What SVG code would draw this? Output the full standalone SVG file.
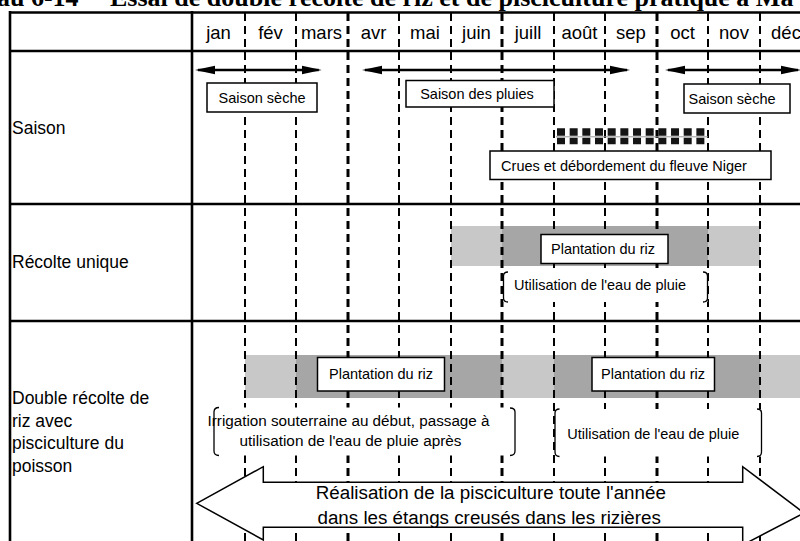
<svg xmlns="http://www.w3.org/2000/svg" width="800" height="541" viewBox="0 0 800 541">
<defs>
<style>
.t{font-family:"Liberation Sans",Arial,sans-serif;fill:#000}
.ttl{font-family:"Liberation Serif","Times New Roman",serif;font-weight:bold;font-size:26px;fill:#000}
.m{font-size:18.5px;text-anchor:middle}
.lbl{font-size:17.5px}
.bx{font-size:14.5px;text-anchor:middle}
.sm{font-size:14px;text-anchor:middle}
.big{font-size:18.8px;text-anchor:middle}
.box{fill:#fff;stroke:#000;stroke-width:1.5}
.bg{fill:#fff;stroke:none}
.rule{stroke:#000;stroke-width:2.6;fill:none}
.dash{stroke:#000;stroke-width:2;stroke-dasharray:8 5;fill:none}
.q{stroke-width:3}
.lg{fill:#c8c8c8}
.dg{fill:#a6a6a6}
.br{fill:none;stroke:#000;stroke-width:1.3}
.sa{stroke:#000;stroke-width:2.3;marker-start:url(#ah);marker-end:url(#ah)}
.crue{stroke:#151515;stroke-dasharray:8 4.67;fill:none}
</style>
<marker id="ah" markerUnits="userSpaceOnUse" viewBox="0 0 20 10" markerWidth="20" markerHeight="10" refX="17" refY="5" orient="auto-start-reverse">
<path d="M0,0.8 L20,5 L0,9.2 z" fill="#000"/>
</marker>
</defs>
<rect width="800" height="541" fill="#fff"/>

<g id="title">
<text class="ttl" x="-3" y="5.5">au 6-14</text>
<text class="ttl" x="110" y="5.5">Essai de double récolte de riz et de pisciculture pratique à Ma</text>
</g>

<g id="bars">
<rect class="lg" x="451" y="226" width="309" height="40"/>
<rect class="dg" x="502" y="226" width="206" height="40"/>
<rect class="lg" x="245" y="355" width="555" height="43"/>
<rect class="dg" x="296" y="355" width="206" height="43"/>
<rect class="dg" x="554" y="355" width="206" height="43"/>
</g>

<g id="grid">
<line class="dash" x1="245" y1="13" x2="245" y2="541"/>
<line class="dash" x1="296" y1="13" x2="296" y2="541"/>
<line class="dash q" x1="348" y1="13" x2="348" y2="541"/>
<line class="dash" x1="399" y1="13" x2="399" y2="541"/>
<line class="dash" x1="451" y1="13" x2="451" y2="541"/>
<line class="dash q" x1="502" y1="13" x2="502" y2="541"/>
<line class="dash" x1="554" y1="13" x2="554" y2="541"/>
<line class="dash" x1="605" y1="13" x2="605" y2="541"/>
<line class="dash q" x1="657" y1="13" x2="657" y2="541"/>
<line class="dash" x1="708" y1="13" x2="708" y2="541"/>
<line class="dash" x1="760" y1="13" x2="760" y2="541"/>
<line class="rule" x1="10" y1="11" x2="10" y2="541"/>
<line class="rule" x1="192" y1="11" x2="192" y2="541"/>
<line class="rule" x1="9" y1="12.5" x2="800" y2="12.5"/>
<line class="rule" x1="9" y1="51" x2="800" y2="51"/>
<line class="rule" x1="9" y1="204" x2="800" y2="204"/>
<line class="rule" x1="9" y1="321" x2="800" y2="321"/>
</g>

<g id="months">
<text class="t m" x="218.5" y="39">jan</text>
<text class="t m" x="270.5" y="39">fév</text>
<text class="t m" x="321.5" y="39">mars</text>
<text class="t m" x="373.5" y="39">avr</text>
<text class="t m" x="425" y="39">mai</text>
<text class="t m" x="476.5" y="39">juin</text>
<text class="t m" x="528" y="39">juill</text>
<text class="t m" x="579.5" y="39">août</text>
<text class="t m" x="631" y="39">sep</text>
<text class="t m" x="682.5" y="39">oct</text>
<text class="t m" x="734" y="39">nov</text>
<text class="t m" x="786" y="39">déc</text>
</g>

<g id="row-labels">
<text class="t lbl" x="12" y="134">Saison</text>
<text class="t lbl" x="12" y="268">Récolte unique</text>
<text class="t lbl" x="12" y="404">Double récolte de</text>
<text class="t lbl" x="12" y="426.5">riz avec</text>
<text class="t lbl" x="12" y="449">pisciculture du</text>
<text class="t lbl" x="12" y="471.5">poisson</text>
</g>

<g id="connectors">
<line class="sa" x1="198" y1="70" x2="318.7" y2="70"/>
<line class="sa" x1="365" y1="70" x2="627" y2="70"/>
<line class="sa" x1="668" y1="70" x2="798" y2="70"/>
</g>

<g id="saison-seche-1">
<rect class="box" x="207" y="83" width="110" height="29"/>
<text class="t bx" x="262" y="102.5">Saison sèche</text>
</g>
<g id="saison-pluies">
<rect class="box" x="406" y="80.5" width="148" height="26.5"/>
<text class="t bx" x="477" y="98.5">Saison des pluies</text>
</g>
<g id="saison-seche-2">
<rect class="box" x="684" y="84" width="106" height="29"/>
<text class="t bx" x="732" y="104">Saison sèche</text>
</g>

<g id="crues">
<line class="crue" x1="557" y1="132" x2="708" y2="132" stroke-width="7.4"/>
<line x1="556" y1="136.8" x2="708" y2="136.8" stroke="#999" stroke-width="1"/>
<line class="crue" x1="557" y1="141" x2="708" y2="141" stroke-width="6.6"/>
<rect class="box" x="490" y="151" width="281" height="28.5"/>
<text class="t bx" x="624" y="170.5">Crues et débordement du fleuve Niger</text>
</g>

<g id="plantation-unique">
<rect class="box" x="541" y="234.5" width="127" height="29"/>
<text class="t bx" x="603" y="253.5">Plantation du riz</text>
</g>
<g id="pluie-unique">
<rect class="bg" x="503.5" y="272" width="204" height="30"/>
<path class="br" d="M508,272 Q503.5,272 503.5,276 L503.5,298 Q503.5,302 508,302"/>
<path class="br" d="M703,272 Q707.5,272 707.5,276 L707.5,298 Q707.5,302 703,302"/>
<text class="t bx" x="600" y="290">Utilisation de l'eau de pluie</text>
</g>

<g id="plantation-double-1">
<rect class="box" x="317.5" y="357.5" width="127" height="33.5"/>
<text class="t bx" x="381" y="378.5">Plantation du riz</text>
</g>
<g id="plantation-double-2">
<rect class="box" x="592" y="357.5" width="122.5" height="33.5"/>
<text class="t bx" x="653" y="378.5">Plantation du riz</text>
</g>

<g id="irrigation">
<rect class="bg" x="214" y="407.5" width="301" height="48"/>
<path class="br" d="M219,407.5 Q214,407.5 214,412 L214,451 Q214,455.5 219,455.5"/>
<path class="br" d="M510,408 Q515,408 515,412 L515,451 Q515,455.5 510,455.5"/>
<text class="t sm" x="348.5" y="426" textLength="282" lengthAdjust="spacingAndGlyphs">Irrigation souterraine au début, passage à</text>
<text class="t sm" x="350.5" y="446" textLength="222" lengthAdjust="spacingAndGlyphs">utilisation de l'eau de pluie après</text>
</g>

<g id="pluie-double">
<rect class="bg" x="555" y="409" width="206.5" height="47.5"/>
<path class="br" d="M559.5,409 Q555,409 555,413 L555,452 Q555,456.5 559.5,456.5"/>
<path class="br" d="M757,409 Q761.5,409 761.5,413 L761.5,452 Q761.5,456.5 757,456.5"/>
<text class="t bx" x="653.3" y="438.5">Utilisation de l'eau de pluie</text>
</g>

<g id="pisciculture">
<polygon points="196.7,503.3 263.3,466.7 263.3,482.3 742.7,482.3 742.7,466.7 804,513 742.7,545 742.7,527.3 263.3,527.3 263.3,540" fill="#fff" stroke="#000" stroke-width="1.5" stroke-linejoin="miter"/>
<text class="t big" x="490.8" y="498.5">Réalisation de la pisciculture toute l'année</text>
<text class="t big" x="489.2" y="524">dans les étangs creusés dans les rizières</text>
</g>
</svg>
